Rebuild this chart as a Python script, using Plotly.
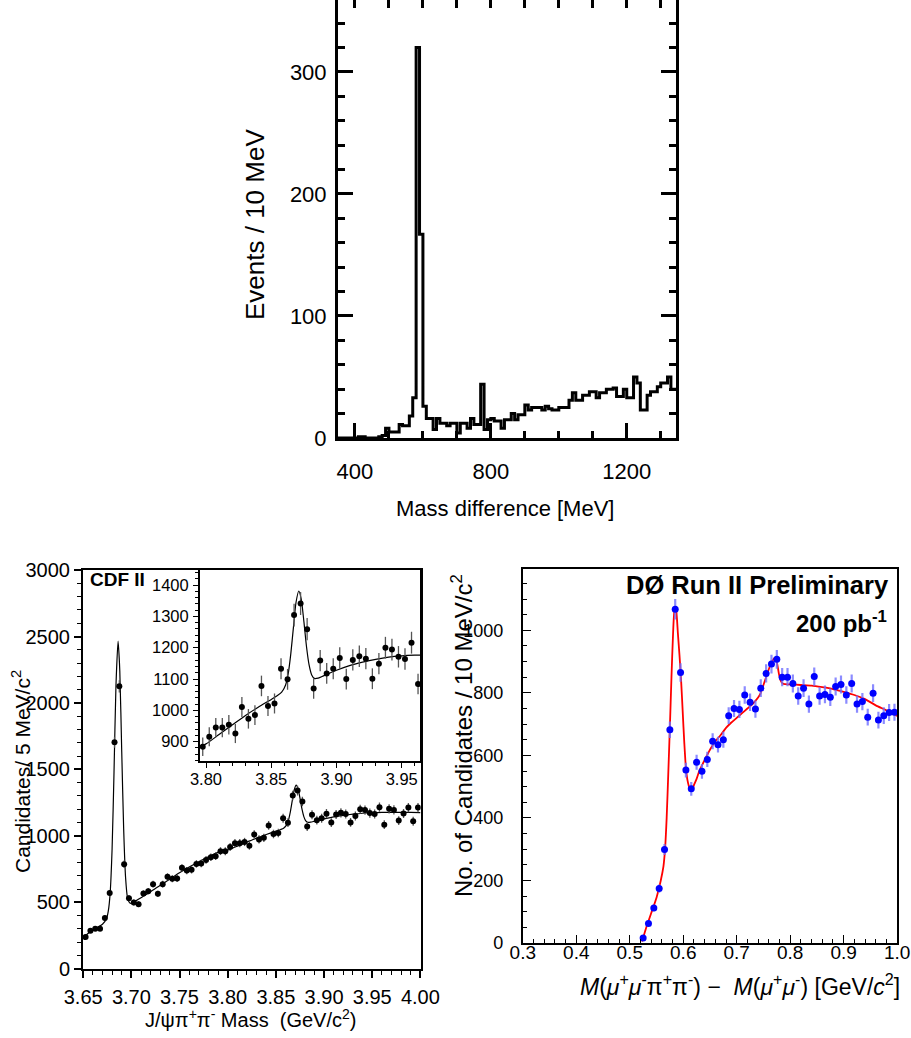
import plotly.graph_objects as go
import numpy as np

W, H = 911, 1038
FONT = "Liberation Sans, Arial, Helvetica, sans-serif"


def px(x):
    return x / W


def py(y):
    return 1 - y / H


# ---------------- Top panel: mass-difference histogram (10 MeV bins) ----------------
hist_left_edges = [350, 360, 370, 380, 390, 400, 410, 420, 430, 440, 450, 460, 470, 480, 490,
                   500, 510, 520, 530, 540, 550, 560, 570, 580, 590, 600, 610, 620, 630, 640,
                   650, 660, 670, 680, 690, 700, 710, 720, 730, 740, 750, 760, 770, 780, 790,
                   800, 810, 820, 830, 840, 850, 860, 870, 880, 890, 900, 910, 920, 930, 940,
                   950, 960, 970, 980, 990, 1000, 1010, 1020, 1030, 1040, 1050, 1060, 1070,
                   1080, 1090, 1100, 1110, 1120, 1130, 1140, 1150, 1160, 1170, 1180, 1190,
                   1200, 1210, 1220, 1230, 1240, 1250, 1260, 1270, 1280, 1290, 1300, 1310,
                   1320, 1330, 1340]
hist_counts = [0, 0, 0, 0, 0, 0, 1, 1, 0, 0, 0, 0, 1, 2, 8,
               5, 5, 5, 11, 10, 10, 18, 33, 320, 167, 26, 16, 16, 7, 16,
               12, 12, 10, 12, 12, 4, 12, 12, 8, 16, 11, 11, 44, 7, 15,
               16, 14, 14, 8, 15, 15, 20, 15, 19, 19, 27, 23, 25, 25, 25,
               23, 26, 24, 23, 23, 25, 25, 25, 31, 37, 31, 31, 35,
               35, 38, 38, 33, 37, 37, 40, 40, 41, 34, 34, 40,
               33, 33, 50, 45, 23, 23, 35, 38, 38, 42, 45, 45,
               50, 40, 40]

# ---------------- CDF II: J/psi pi+ pi- mass (5 MeV bins) ----------------
cdf_mass = [3.6525, 3.6575, 3.6625, 3.6675, 3.6725, 3.6775, 3.6825, 3.6875, 3.6925, 3.6975,
            3.7025, 3.7075, 3.7125, 3.7175, 3.7225, 3.7275, 3.7325, 3.7375, 3.7425, 3.7475,
            3.7525, 3.7575, 3.7625, 3.7675, 3.7725, 3.7775, 3.7825, 3.7875, 3.7925, 3.7975,
            3.8025, 3.8075, 3.8125, 3.8175, 3.8225, 3.8275, 3.8325, 3.8375, 3.8425, 3.8475,
            3.8525, 3.8575, 3.8625, 3.8675, 3.8725, 3.8775, 3.8825, 3.8875, 3.8925, 3.8975,
            3.9025, 3.9075, 3.9125, 3.9175, 3.9225, 3.9275, 3.9325, 3.9375, 3.9425, 3.9475,
            3.9525, 3.9575, 3.9625, 3.9675, 3.9725, 3.9775, 3.9825, 3.9875, 3.9925, 3.9975]
cdf_counts = [238, 286, 301, 301, 381, 569, 1705, 2125, 787, 531,
              499, 486, 566, 584, 636, 564, 636, 692, 677, 679,
              759, 739, 744, 789, 792, 819, 839, 847, 885, 884,
              916, 945, 945, 954, 926, 1011, 973, 985, 1078, 1014,
              1022, 1133, 1099, 1304, 1341, 1259, 1070, 1159, 1118, 1133,
              1167, 1100, 1161, 1173, 1165, 1101, 1149, 1200, 1194, 1171,
              1164, 1216, 1084, 1203, 1195, 1115, 1168, 1213, 1110, 1213]

cdf_fit_x = [3.650, 3.655, 3.660, 3.665, 3.670, 3.674, 3.676, 3.678, 3.680, 3.682,
             3.684, 3.6862, 3.688, 3.690, 3.692, 3.694, 3.696, 3.698, 3.700, 3.710,
             3.720, 3.730, 3.740, 3.750, 3.760, 3.770, 3.780, 3.790, 3.800, 3.810,
             3.820, 3.830, 3.840, 3.850, 3.855, 3.858, 3.861, 3.863, 3.865, 3.867,
             3.869, 3.8711, 3.873, 3.875, 3.877, 3.879, 3.881, 3.883, 3.886, 3.890,
             3.900, 3.910, 3.920, 3.930, 3.940, 3.950, 3.960, 3.970, 3.980, 3.990, 4.000]
cdf_fit_y = [230, 265, 292, 312, 335, 372, 431, 571, 903, 1481,
             2127, 2465, 2241, 1635, 1053, 685, 535, 497, 492, 535,
             580, 628, 675, 722, 765, 805, 843, 876, 893, 923,
             953, 983, 1010, 1035, 1048, 1058, 1081, 1117, 1181, 1265,
             1345, 1381, 1355, 1284, 1204, 1145, 1113, 1102, 1103, 1110,
             1128, 1143, 1154, 1163, 1170, 1174, 1176, 1177, 1177, 1176, 1175]

# ---------------- DØ Run II: M(mu mu pi pi) - M(mu mu) (10 MeV bins) ----------------
d0_mass = [0.525, 0.535, 0.545, 0.555, 0.565, 0.575, 0.585, 0.595, 0.605, 0.615,
           0.625, 0.635, 0.645, 0.655, 0.665, 0.675, 0.685, 0.695, 0.705, 0.715,
           0.725, 0.735, 0.745, 0.755, 0.765, 0.775, 0.785, 0.795, 0.805, 0.815,
           0.825, 0.835, 0.845, 0.855, 0.865, 0.875, 0.885, 0.895, 0.905, 0.915,
           0.925, 0.935, 0.945, 0.955, 0.965, 0.975, 0.985, 0.995]
d0_counts = [16, 62, 112, 174, 299, 682, 1067, 865, 553, 493,
             578, 549, 587, 645, 634, 650, 727, 750, 747, 793,
             770, 748, 815, 862, 892, 907, 850, 850, 830, 790,
             815, 764, 852, 790, 795, 786, 820, 827, 793, 830,
             764, 772, 722, 799, 713, 727, 737, 738]

d0_fit_x = [0.523, 0.530, 0.540, 0.550, 0.558, 0.563, 0.566, 0.569, 0.572, 0.575,
            0.578, 0.581, 0.584, 0.587, 0.590, 0.593, 0.596, 0.599, 0.602, 0.605,
            0.608, 0.612, 0.615, 0.618, 0.620, 0.625, 0.630, 0.640, 0.650, 0.660,
            0.670, 0.680, 0.690, 0.700, 0.710, 0.720, 0.730, 0.740, 0.745, 0.750,
            0.756, 0.762, 0.766, 0.770, 0.773, 0.776, 0.779, 0.782, 0.786, 0.790,
            0.800, 0.820, 0.840, 0.860, 0.880, 0.900, 0.920, 0.940, 0.960, 0.980, 1.000]
d0_fit_y = [5, 45, 95, 145, 200, 245, 300, 400, 540, 690,
            850, 990, 1075, 1060, 990, 920, 840, 740, 640, 560,
            520, 495, 490, 495, 505, 525, 550, 585, 618, 645,
            665, 688, 705, 720, 735, 750, 765, 785, 800, 825,
            855, 885, 900, 910, 908, 890, 860, 840, 830, 828,
            827, 825, 823, 818, 812, 803, 793, 780, 760, 744, 726]

fig = go.Figure()

# Top histogram
fig.add_trace(go.Scatter(
    x=hist_left_edges + [hist_left_edges[-1] + 10],
    y=hist_counts + [hist_counts[-1]],
    mode="lines", line=dict(color="black", width=3, shape="hv"),
    xaxis="x", yaxis="y", hoverinfo="skip"))
# dummy trace for top tick axis
fig.add_trace(go.Scatter(x=[None], y=[None], xaxis="x5", yaxis="y", mode="markers",
                         hoverinfo="skip"))

cdf_err = np.sqrt(np.array(cdf_counts, dtype=float))
d0_err = np.sqrt(np.array(d0_counts, dtype=float))

# CDF main
fig.add_trace(go.Scatter(x=cdf_fit_x, y=cdf_fit_y, mode="lines",
                         line=dict(color="black", width=1.2, shape="spline", smoothing=0.6),
                         xaxis="x2", yaxis="y2", hoverinfo="skip"))
fig.add_trace(go.Scatter(x=cdf_mass, y=cdf_counts, mode="markers",
                         marker=dict(color="black", size=6),
                         error_y=dict(type="data", array=cdf_err, color="#555555",
                                      thickness=1.3, width=0),
                         xaxis="x2", yaxis="y2"))
# CDF inset
fig.add_trace(go.Scatter(x=cdf_fit_x, y=cdf_fit_y, mode="lines",
                         line=dict(color="black", width=1.2, shape="spline", smoothing=0.6),
                         xaxis="x3", yaxis="y3", hoverinfo="skip"))
fig.add_trace(go.Scatter(x=cdf_mass, y=cdf_counts, mode="markers",
                         marker=dict(color="black", size=6),
                         error_y=dict(type="data", array=cdf_err, color="#555555",
                                      thickness=1.3, width=0),
                         xaxis="x3", yaxis="y3"))
# D0
fig.add_trace(go.Scatter(x=d0_fit_x, y=d0_fit_y, mode="lines",
                         line=dict(color="#ff0000", width=1.8, shape="spline", smoothing=0.6),
                         xaxis="x4", yaxis="y4", hoverinfo="skip"))
fig.add_trace(go.Scatter(x=d0_mass, y=d0_counts, mode="markers",
                         marker=dict(color="#0000ff", size=7),
                         error_y=dict(type="data", array=d0_err, color="rgba(110,110,255,0.8)",
                                      thickness=2.2, width=0),
                         xaxis="x4", yaxis="y4"))

base_ax = dict(showgrid=False, zeroline=False, showline=True, linecolor="black",
               tickcolor="black", automargin=False,
               tickfont=dict(family=FONT, color="black"))

layout = dict(
    template="none",
    width=W, height=H, autosize=False, showlegend=False,
    margin=dict(l=0, r=0, t=0, b=0, pad=0),
    paper_bgcolor="white", plot_bgcolor="white",
    font=dict(family=FONT, color="black"),
)

# Top panel axes
layout["xaxis"] = dict(base_ax, domain=[px(338), px(676)], range=[350, 1345], anchor="y",
                       linewidth=3, mirror=False, ticks="inside", ticklen=15, tickwidth=2.5,
                       tick0=400, dtick=400, ticklabelstandoff=12,
                       minor=dict(ticks="inside", ticklen=7, tickwidth=2.5, tick0=400, dtick=100),
                       tickfont=dict(family=FONT, size=22, color="black"))
layout["xaxis5"] = dict(showgrid=False, zeroline=False, showline=False, overlaying="x",
                        side="top", anchor="y", range=[350, 1345], ticks="inside",
                        automargin=False,
                        ticklen=8, tickwidth=2.5, tickcolor="black", tick0=400, dtick=100,
                        showticklabels=False)
layout["yaxis"] = dict(base_ax, domain=[py(438), 1.0], range=[0, 359], anchor="x",
                       linewidth=3, mirror="ticks", ticks="inside", ticklen=15, tickwidth=2.5,
                       tick0=0, dtick=100, ticklabelstandoff=4,
                       minor=dict(ticks="inside", ticklen=7, tickwidth=2.5, dtick=20),
                       tickfont=dict(family=FONT, size=22, color="black"))

# CDF main axes
layout["xaxis2"] = dict(base_ax, domain=[px(83), px(420.7)], range=[3.6498, 4.0003], anchor="y2",
                        linewidth=2, mirror=True, ticks="outside", ticklen=7, tickwidth=1.5,
                        tick0=3.65, dtick=0.05, tickformat=".2f", ticklabelstandoff=2,
                        minor=dict(ticks="outside", ticklen=4, tickwidth=1, dtick=0.01, tick0=3.65),
                        tickfont=dict(family=FONT, size=20, color="black"))
layout["yaxis2"] = dict(base_ax, domain=[py(969), py(570)], range=[-2, 3000.5], anchor="x2",
                        linewidth=2, mirror=True, ticks="outside", ticklen=7, tickwidth=1.5,
                        tick0=0, dtick=500, ticklabelstandoff=0,
                        minor=dict(ticks="outside", ticklen=4, tickwidth=1, dtick=100),
                        tickfont=dict(family=FONT, size=20, color="black"))
# CDF inset axes
layout["xaxis3"] = dict(base_ax, domain=[px(200), px(420)], range=[3.7954, 3.964], anchor="y3",
                        linewidth=2, mirror=True, ticks="outside", ticklen=5, tickwidth=1.2,
                        tick0=3.80, dtick=0.05, tickformat=".2f", ticklabelstandoff=-3,
                        minor=dict(ticks="outside", ticklen=3, tickwidth=1, dtick=0.01, tick0=3.80),
                        tickfont=dict(family=FONT, size=16.5, color="black"))
layout["yaxis3"] = dict(base_ax, domain=[py(761), py(570)], range=[838.4, 1448], anchor="x3",
                        linewidth=2, mirror=True, ticks="outside", ticklen=5, tickwidth=1.2,
                        tick0=900, dtick=100, ticklabelstandoff=1,
                        minor=dict(ticks="outside", ticklen=3, tickwidth=1, dtick=20),
                        tickfont=dict(family=FONT, size=16.5, color="black"))

# D0 axes
layout["xaxis4"] = dict(base_ax, domain=[px(522.7), px(897.3)], range=[0.2998, 1.0003],
                        anchor="y4", linewidth=1.5, mirror=True, ticks="inside", ticklen=9,
                        tickwidth=1.2, tick0=0.3, dtick=0.1, tickformat=".1f",
                        ticklabelstandoff=-9,
                        minor=dict(ticks="inside", ticklen=5, tickwidth=1, dtick=0.02, tick0=0.3),
                        tickfont=dict(family=FONT, size=19, color="black"))
layout["yaxis4"] = dict(base_ax, domain=[py(943.3), py(569)], range=[-1, 1196], anchor="x4",
                        linewidth=1.5, mirror=True, ticks="inside", ticklen=9, tickwidth=1.2,
                        tick0=0, dtick=200, ticklabelstandoff=14,
                        minor=dict(ticks="inside", ticklen=5, tickwidth=1, dtick=50),
                        tickfont=dict(family=FONT, size=18, color="black"))


def ann(text, x, y, size, angle=0, xanchor="center", yanchor="middle"):
    return dict(text=text, x=px(x), y=py(y), xref="paper", yref="paper", showarrow=False,
                textangle=angle, xanchor=xanchor, yanchor=yanchor,
                font=dict(family=FONT, size=size, color="black"))


layout["annotations"] = [
    ann("Events / 10 MeV", 255, 225, 26, angle=-90),
    ann("Mass difference [MeV]", 505, 508, 22),
    ann("Candidates/ 5 MeV/c<sup>2</sup>", 21, 772, 21, angle=-90),
    ann("J/ψπ<sup>+</sup>π<sup>-</sup> Mass \u00a0(GeV/c<sup>2</sup>)", 250, 1018, 20),
    ann("<b>CDF II</b>", 88, 579, 19, xanchor="left"),
    ann("No. of Candidates / 10 MeV/c<sup>2</sup>", 462, 736, 24, angle=-90),
    ann("<i>M</i>(<i>μ</i><sup>+</sup><i>μ</i><sup>-</sup>π<sup>+</sup>π<sup>-</sup>) \u2212 \u00a0"
        "<i>M</i>(<i>μ</i><sup>+</sup><i>μ</i><sup>-</sup>) [GeV/<i>c</i><sup>2</sup>]",
        902, 985, 23, xanchor="right"),
    ann("<b>DØ Run II Preliminary</b>", 891, 585, 25.5, xanchor="right"),
    ann("<b>200 pb<sup>-1</sup></b>", 889, 622, 24, xanchor="right"),
]

fig.update_layout(**layout)
fig.write_html("out.html", config={"displayModeBar": False},
               post_script="document.body.style.margin='0px';")
